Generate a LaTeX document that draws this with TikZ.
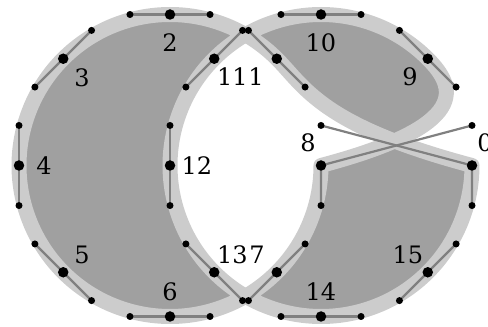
\documentclass[tikz,border=0pt]{standalone}
\usepackage{fontspec}
\setmainfont{DejaVu Serif}
\usetikzlibrary{calc}
\definecolor{fillgrey}{RGB}{160,160,160}
\definecolor{bandgrey}{RGB}{204,204,204}
\definecolor{handlegrey}{RGB}{128,128,128}
\begin{document}
\begin{tikzpicture}[x=1pt,y=1pt,
  bigdot/.style={circle,fill=black,inner sep=0pt,minimum size=10.5pt},
  smalldot/.style={circle,fill=black,inner sep=0pt,minimum size=7pt},
  handle/.style={draw=handlegrey,line width=2.2pt},
  lbl/.style={inner sep=0pt,font=\fontsize{24}{24}\selectfont},
  curveshape/.style={fill=fillgrey,draw=bandgrey,line width=15pt,even odd rule,line join=round}]
\useasboundingbox (0,0) rectangle (488,327);
\coordinate (Lc) at (170,161.5);
\coordinate (Rc) at (321,161.5);
\foreach \k in {0,...,7}{
  \pgfmathsetmacro{\ang}{45*\k}
  \path (Lc) ++(\ang:151) coordinate (L\k);
  \path (L\k) ++(\ang+90:40.05) coordinate (Lo\k);
  \path (L\k) ++(\ang-90:40.05) coordinate (Li\k);
  \path (Rc) ++(\ang:151) coordinate (R\k);
  \path (R\k) ++(\ang+90:40.05) coordinate (Ro\k);
  \path (R\k) ++(\ang-90:40.05) coordinate (Ri\k);
}
% the curve
\path[curveshape] (R0) .. controls (Lo0) and (Li1) .. (L1)
  .. controls (Lo1) and (Li2) .. (L2)
  .. controls (Lo2) and (Li3) .. (L3)
  .. controls (Lo3) and (Li4) .. (L4)
  .. controls (Lo4) and (Li5) .. (L5)
  .. controls (Lo5) and (Li6) .. (L6)
  .. controls (Lo6) and (Li7) .. (L7)
  .. controls (Lo7) and (Li0) .. (L0)
  .. controls (Ro0) and (Ri1) .. (R1)
  .. controls (Ro1) and (Ri2) .. (R2)
  .. controls (Ro2) and (Ri3) .. (R3)
  .. controls (Ro3) and (Ri4) .. (R4)
  .. controls (Ro4) and (Ri5) .. (R5)
  .. controls (Ro5) and (Ri6) .. (R6)
  .. controls (Ro6) and (Ri7) .. (R7)
  .. controls (Ro7) and (Ri0) .. (R0) -- cycle;
% handles
\draw[handle] (R0) -- (Lo0) (R0) -- (Ri0);
\draw[handle] (L0) -- (Li0) (L0) -- (Ro0);
\foreach \k in {1,...,7}{
  \draw[handle] (Li\k) -- (L\k) -- (Lo\k);
  \draw[handle] (Ri\k) -- (R\k) -- (Ro\k);
}
% control points
\foreach \k in {0,...,7}{
  \node[smalldot] (cLo\k) at (Lo\k) {};
  \node[smalldot] (cLi\k) at (Li\k) {};
  \node[smalldot] (cRo\k) at (Ro\k) {};
  \node[smalldot] (cRi\k) at (Ri\k) {};
  \node[bigdot] (pL\k) at (L\k) {};
  \node[bigdot] (pR\k) at (R\k) {};
}
% labels
\node[lbl] (t0) at (485,184) {0};
\node[lbl] (t1) at (256,250) {1};
\node[lbl] (t2) at (170,284) {2};
\node[lbl] (t3) at (82,249) {3};
\node[lbl] (t4) at (44,161) {4};
\node[lbl] (t5) at (82,72) {5};
\node[lbl] (t6) at (170,35) {6};
\node[lbl] (t7) at (257,72) {7};
\node[lbl] (t8) at (308,184) {8};
\node[lbl] (t9) at (410,250) {9};
\node[lbl] (t10) at (321,284) {10};
\node[lbl] (t11) at (232.5,250) {11};
\node[lbl] (t12) at (197,161) {12};
\node[lbl] (t13) at (232.5,72) {13};
\node[lbl] (t14) at (321,35) {14};
\node[lbl] (t15) at (408,72) {15};
\end{tikzpicture}
\end{document}
